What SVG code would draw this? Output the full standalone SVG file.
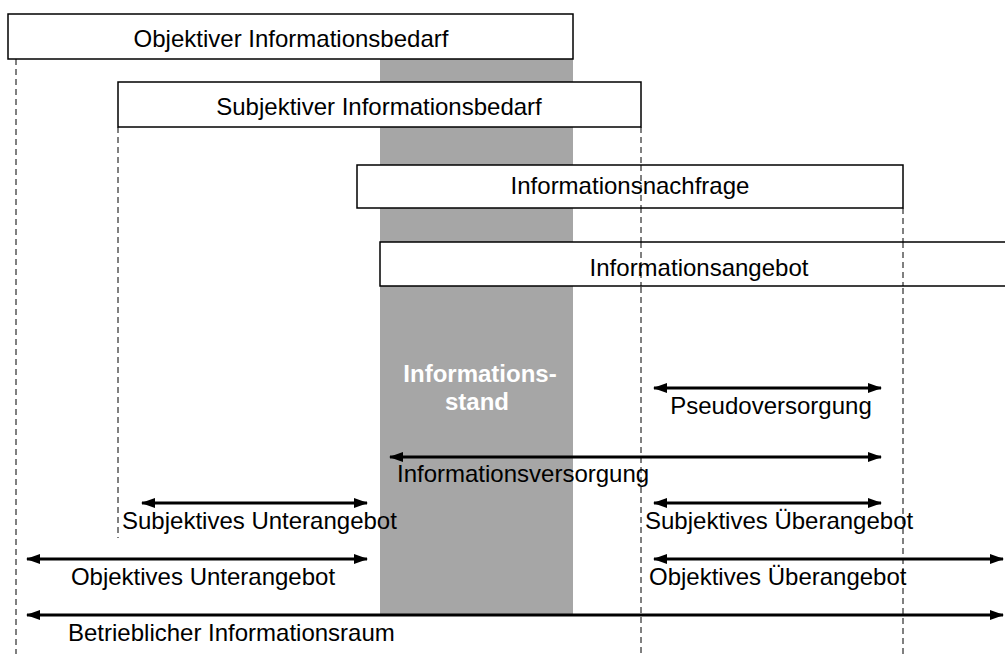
<svg xmlns="http://www.w3.org/2000/svg" width="1005" height="654" viewBox="0 0 1005 654">
  <defs>
    <marker id="head" viewBox="0 0 14 10" refX="13" refY="5" markerWidth="14" markerHeight="10" markerUnits="userSpaceOnUse" orient="auto-start-reverse">
      <path d="M0,0 L14,5 L0,10 Z" fill="#000"/>
    </marker>
    <style>
      .box { fill: #fff; stroke: #000; stroke-width: 1.5; }
      .dash { stroke: #000; stroke-width: 1; stroke-dasharray: 6 4; fill: none; }
      .arrow { stroke: #000; stroke-width: 3; fill: none; marker-start: url(#head); marker-end: url(#head); }
      .lbl { font-family: "Liberation Sans", Arial, sans-serif; font-size: 24px; fill: #000; }
      .stand { font-family: "Liberation Sans", Arial, sans-serif; font-size: 24px; font-weight: bold; fill: #fff; }
    </style>
  </defs>

  <rect width="1005" height="654" fill="#fff"/>

  <!-- Informationsstand band -->
  <g id="informationsstand">
    <rect x="380" y="59" width="193" height="556" fill="#a6a6a6"/>
    <text class="stand" x="480" y="382" text-anchor="middle">Informations-</text>
    <text class="stand" x="477" y="410" text-anchor="middle">stand</text>
  </g>

  <!-- boundary guides -->
  <g id="guides">
    <line class="dash" x1="16" y1="59" x2="16" y2="654"/>
    <line class="dash" x1="118" y1="127" x2="118" y2="538"/>
    <line class="dash" x1="641" y1="127" x2="641" y2="654"/>
    <line class="dash" x1="903" y1="208" x2="903" y2="654"/>
  </g>

  <g id="objektiver-bedarf">
    <rect class="box" x="8" y="14" width="565" height="45"/>
    <text class="lbl" x="291" y="47" text-anchor="middle">Objektiver Informationsbedarf</text>
  </g>

  <g id="subjektiver-bedarf">
    <rect class="box" x="118" y="82" width="523" height="45"/>
    <text class="lbl" x="379" y="115" text-anchor="middle">Subjektiver Informationsbedarf</text>
  </g>

  <g id="nachfrage">
    <rect class="box" x="357" y="165" width="546" height="43"/>
    <text class="lbl" x="630" y="194" text-anchor="middle">Informationsnachfrage</text>
  </g>

  <g id="angebot">
    <rect class="box" x="380" y="242" width="640" height="44"/>
    <text class="lbl" x="699" y="276" text-anchor="middle">Informationsangebot</text>
  </g>

  <!-- dashed guides crossing the boxes stay visible -->
  <g id="guide-overlay">
    <line class="dash" x1="641" y1="165" x2="641" y2="208"/>
    <line class="dash" x1="641" y1="242" x2="641" y2="286"/>
    <line class="dash" x1="903" y1="242" x2="903" y2="286"/>
  </g>

  <g id="connectors">
    <line class="arrow" x1="654" y1="388" x2="881" y2="388"/>
    <line class="arrow" x1="390" y1="457" x2="881" y2="457"/>
    <line class="arrow" x1="142" y1="503" x2="367" y2="503"/>
    <line class="arrow" x1="654" y1="503" x2="881" y2="503"/>
    <line class="arrow" x1="27" y1="559" x2="367" y2="559"/>
    <line class="arrow" x1="654" y1="559" x2="1003" y2="559"/>
    <line class="arrow" x1="27" y1="615" x2="1003" y2="615"/>
  </g>

  <g id="labels">
    <text class="lbl" x="771" y="414" text-anchor="middle">Pseudoversorgung</text>
    <text class="lbl" x="397" y="482">Informationsversorgung</text>
    <text class="lbl" x="122" y="529">Subjektives Unterangebot</text>
    <text class="lbl" x="645" y="529">Subjektives Überangebot</text>
    <text class="lbl" x="203" y="585" text-anchor="middle">Objektives Unterangebot</text>
    <text class="lbl" x="649" y="585">Objektives Überangebot</text>
    <text class="lbl" x="68" y="641">Betrieblicher Informationsraum</text>
  </g>
</svg>
